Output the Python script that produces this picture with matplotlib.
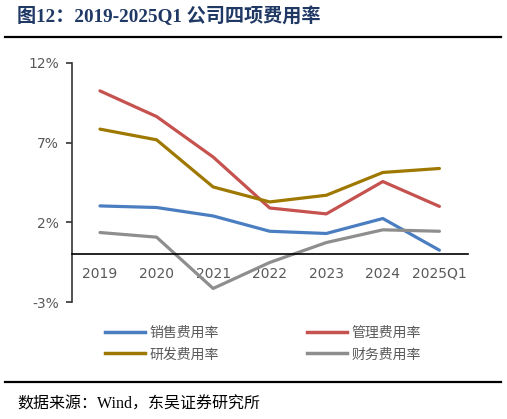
import matplotlib.pyplot as plt
from matplotlib.lines import Line2D

plt.rcParams['font.family'] = ['Noto Sans CJK SC', 'DejaVu Sans']

# 数据（%）
years = ['2019', '2020', '2021', '2022', '2023', '2024', '2025Q1']
sales_rate = [3.03, 2.93, 2.40, 1.44, 1.30, 2.24, 0.25]
admin_rate = [10.25, 8.64, 6.10, 2.90, 2.53, 4.56, 3.00]
rd_rate = [7.85, 7.18, 4.22, 3.28, 3.70, 5.13, 5.38]
fin_rate = [1.36, 1.07, -2.15, -0.52, 0.73, 1.53, 1.44]

series_names = ['销售费用率', '管理费用率', '研发费用率', '财务费用率']
series_vals = [sales_rate, admin_rate, rd_rate, fin_rate]
colors = ['#4A7EC1', '#C5524E', '#9E7800', '#8E8E8E']
yticks = [-3, 2, 7, 12]

W, H = 507, 419
fig = plt.figure(figsize=(W / 100, H / 100), dpi=100)

# 坐标区（像素换算）
left, right, top, bottom = 71.7, 467.7, 63, 302
ax = fig.add_axes([left / W, 1 - bottom / H, (right - left) / W, (bottom - top) / H])

x = list(range(len(years)))
for vals, c in zip(series_vals, colors):
    ax.plot(x, vals, color=c, linewidth=2.3, solid_capstyle='round')

ax.set_xlim(-0.5, len(years) - 0.5)
ax.set_ylim(-3, 12)
ax.set_yticks(yticks)
ax.set_yticklabels([f'{v}%' for v in yticks])
ax.set_xticks(x)
ax.set_xticklabels(years)

for s in ['top', 'right']:
    ax.spines[s].set_visible(False)
ax.spines['bottom'].set_position(('data', 0))
ax.spines['bottom'].set_color('black')
ax.spines['bottom'].set_linewidth(1.2)
ax.spines['left'].set_color('#333333')
ax.spines['left'].set_linewidth(1.2)

ax.tick_params(axis='y', direction='out', length=4, width=1.2, color='#333333',
               labelsize=10, labelcolor='#595959', pad=5,
               labelfontfamily=['DejaVu Sans'])
ax.tick_params(axis='x', length=0, labelsize=10, labelcolor='#595959', pad=9,
               labelfontfamily=['DejaVu Sans'])

# 图例
handles = [Line2D([0], [0], color=c, linewidth=2.5) for c in colors]
order = [0, 2, 1, 3]
fig.legend([handles[i] for i in order], [series_names[i] for i in order],
           ncol=2, loc='center', bbox_to_anchor=(263 / W, 1 - 343.5 / H),
           frameon=False, fontsize=10, labelcolor='#595959',
           handlelength=2.85, handletextpad=0.3, columnspacing=6.4,
           labelspacing=0.55)

# 标题与分隔线
fig.text(17 / W, 1 - 16 / H, '图12：2019-2025Q1 公司四项费用率',
         fontsize=13.8, fontweight='bold', color='#1F3864', va='center', ha='left',
         family=['Liberation Serif', 'Noto Sans CJK SC'])
fig.add_artist(Line2D([5 / W, 501 / W], [1 - 37 / H, 1 - 37 / H], color='black', linewidth=1.6))
fig.add_artist(Line2D([5 / W, 501 / W], [1 - 382 / H, 1 - 382 / H], color='black', linewidth=1.6))

fig.text(17 / W, 1 - 405 / H, '数据来源：Wind，东吴证券研究所',
         fontsize=11.5, color='black', va='center', ha='left',
         family=['Liberation Serif', 'Noto Sans CJK SC'])

fig.savefig('out.png', dpi=100)
